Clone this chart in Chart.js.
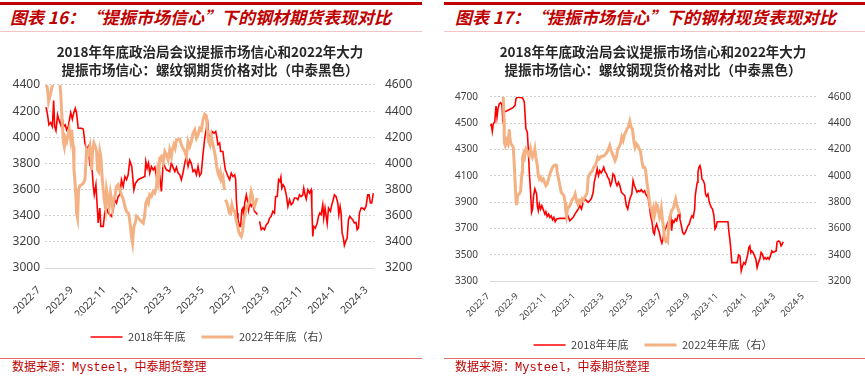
<!DOCTYPE html>
<html><head><meta charset="utf-8">
<script src="https://cdn.jsdelivr.net/npm/chart.js@4.4.1/dist/chart.umd.min.js"></script>
<style>
html,body{margin:0;padding:0;background:#fff;}
body{width:865px;height:376px;position:relative;overflow:hidden;font-family:"Noto Sans CJK SC",sans-serif;}
.bar{position:absolute;top:2px;height:3px;background:#C00000;}
.hd{position:absolute;top:6px;font-size:17px;font-weight:bold;font-style:italic;color:#C00000;white-space:nowrap;line-height:22px;}
.sub{position:absolute;top:31px;height:1px;background:#F2C4C4;}
.ft{position:absolute;top:358px;height:1px;background:#E07070;}
.src{position:absolute;top:361px;font-size:12px;color:#C00000;font-family:"Liberation Mono","Noto Sans CJK SC",monospace;line-height:14px;white-space:nowrap;}
.cw{position:absolute;top:38px;}
</style></head>
<body>
<div class="bar" style="left:0;width:422px"></div>
<div class="bar" style="left:444px;width:421px"></div>
<div class="hd" style="left:10px">图表 16：“提振市场信心”下的钢材期货表现对比</div>
<div class="hd" style="left:455px">图表 17：“提振市场信心”下的钢材现货表现对比</div>
<div class="sub" style="left:0;width:422px"></div>
<div class="sub" style="left:444px;width:421px"></div>
<div class="cw" style="left:0"><canvas id="c16" width="420" height="318"></canvas></div>
<div class="cw" style="left:441px"><canvas id="c17" width="424" height="326"></canvas></div>
<div class="ft" style="left:0;width:422px"></div>
<div class="ft" style="left:444px;width:421px"></div>
<div class="src" style="left:12px">数据来源：Mysteel，中泰期货整理</div>
<div class="src" style="left:455px">数据来源：Mysteel，中泰期货整理</div>
<script>
// x = months after start of 2022-07
const xLabels16 = ['2022-7','2022-9','2022-11','2023-1','2023-3','2023-5','2023-7','2023-9','2023-11','2024-1','2024-3'];
const xLabels17 = ['2022-7','2022-9','2022-11','2023-1','2023-3','2023-5','2023-7','2023-9','2023-11','2024-1','2024-3','2024-5'];
const seriesNames = ['2018年年底','2022年年底（右）'];
const title16 = ['2018年年底政治局会议提振市场信心和2022年大力','提振市场信心：螺纹钢期货价格对比（中泰黑色）'];
const title17 = ['2018年年底政治局会议提振市场信心和2022年大力','提振市场信心：螺纹钢现货价格对比（中泰黑色）'];

// Figure 16: rebar futures, 2018 (left axis)
const fut2018 = [[0.06,4230],[0.14,4184],[0.24,4095],[0.35,4112],[0.45,4082],[0.53,4280],[0.59,4082],[0.67,4051],[0.77,4171],[0.85,4133],[0.96,4095],[1.04,4153],[1.14,4082],[1.24,4095],[1.32,4056],[1.42,4082],[1.57,4189],[1.67,4138],[1.75,4184],[1.85,4222],[1.93,4184],[2.03,4069],[2.24,4069],[2.34,4062],[2.44,3955],[2.54,3904],[2.64,3929],[2.74,3789],[2.85,3802],[2.95,3624],[3.01,3560],[3.11,3637],[3.19,3471],[3.25,3344],[3.35,3458],[3.41,3318],[3.56,3318],[3.66,3433],[3.76,3458],[3.86,3420],[3.96,3408],[4.07,3395],[4.17,3446],[4.27,3522],[4.37,3497],[4.47,3547],[4.57,3560],[4.67,3675],[4.78,3624],[4.88,3700],[4.98,3675],[5.08,3713],[5.18,3820],[5.30,3777],[5.43,3598],[5.53,3649],[5.69,3675],[5.89,3688],[6.10,3700],[6.16,3815],[6.24,3764],[6.32,3802],[6.40,3726],[6.50,3777],[6.61,3751],[6.71,3771],[6.81,3700],[6.97,3751],[7.11,3586],[7.22,3802],[7.42,3751],[7.62,3738],[7.72,3802],[7.93,3738],[8.03,3771],[8.13,3726],[8.23,3713],[8.33,3675],[8.43,3726],[8.54,3802],[8.64,3853],[8.74,3777],[8.84,3827],[8.94,3802],[9.04,3738],[9.15,3751],[9.25,3713],[9.35,3777],[9.45,3705],[9.55,3726],[9.65,3866],[9.76,3993],[9.86,4069],[9.94,4107],[10.00,4018],[10.12,3980],[10.20,4044],[10.33,4031],[10.43,4044],[10.49,4006],[10.57,3942],[10.67,3955],[10.73,3891],[10.87,3891],[10.93,3827],[11.02,3751],[11.10,3726],[11.18,3700],[11.28,3675],[11.38,3726],[11.48,3700],[11.59,3713],[11.65,3675],[11.69,3522],[11.75,3420],[11.79,3369],[11.89,3318],[11.95,3318],[12.03,3446],[12.09,3458],[12.15,3395],[12.20,3497],[12.30,3560],[12.36,3522],[12.44,3446],[12.50,3497],[12.60,3471],[12.70,3497],[12.80,3433],[12.91,3420],[12.97,3408],[13.04,null],[13.11,3357],[13.21,3293],[13.31,3306],[13.41,3293],[13.52,3331],[13.62,3344],[13.72,3382],[13.82,3395],[13.92,3433],[14.02,3420],[14.09,3547],[14.19,3547],[14.27,3675],[14.35,3662],[14.41,3695],[14.47,3611],[14.55,3637],[14.63,3620],[14.74,3560],[14.84,3471],[14.94,3522],[15.04,3484],[15.14,3497],[15.24,3535],[15.35,3535],[15.45,3522],[15.55,3560],[15.65,3547],[15.75,3560],[15.81,3611],[15.89,3560],[15.96,3527],[16.06,3598],[16.16,3573],[16.26,3598],[16.30,3471],[16.36,3242],[16.42,3318],[16.52,3306],[16.63,3344],[16.71,3395],[16.79,3420],[16.87,3408],[16.97,3484],[17.03,3382],[17.11,3458],[17.24,3340],[17.32,3458],[17.44,3433],[17.52,3484],[17.58,3509],[17.68,3560],[17.78,3547],[17.89,3497],[17.95,3408],[18.03,3471],[18.09,3420],[18.15,3268],[18.23,3229],[18.29,3173],[18.37,3204],[18.46,3229],[18.54,3369],[18.62,3395],[18.70,3382],[18.80,3369],[18.90,3344],[19.00,3349],[19.07,3293],[19.15,3306],[19.21,3420],[19.31,3458],[19.41,3458],[19.51,3446],[19.61,3471],[19.72,3560],[19.80,3560],[19.88,3497],[19.96,3497],[20.06,3573]];

// Figure 16: rebar futures, 2022 (right axis)
const fut2022 = [[0.06,4600],[0.14,4582],[0.22,4473],[0.30,4511],[0.41,4575],[0.51,4625],[0.61,4690],[0.75,4720],[0.87,4665],[0.96,4536],[1.02,4384],[1.08,4256],[1.12,4167],[1.18,4129],[1.24,4193],[1.32,4167],[1.42,4231],[1.48,4262],[1.57,4180],[1.63,4256],[1.69,4167],[1.73,4129],[1.77,3951],[1.81,3900],[1.89,3747],[1.93,3620],[1.99,3582],[2.05,3798],[2.13,3829],[2.24,3837],[2.34,3849],[2.44,3875],[2.50,4002],[2.54,4104],[2.64,4078],[2.74,4129],[2.85,3951],[2.91,4104],[2.99,4155],[3.07,4129],[3.15,4091],[3.21,3951],[3.27,3938],[3.35,4091],[3.41,4053],[3.50,3875],[3.56,3798],[3.62,3722],[3.70,3658],[3.76,3798],[3.86,3722],[3.92,3671],[4.00,3773],[4.07,3722],[4.13,3658],[4.21,3722],[4.29,3760],[4.37,3824],[4.47,3837],[4.57,3798],[4.67,3760],[4.78,3727],[4.88,3671],[4.98,3633],[5.08,3620],[5.14,3595],[5.22,3518],[5.28,3442],[5.35,3391],[5.43,3518],[5.51,3544],[5.59,3595],[5.69,3582],[5.79,3569],[5.89,3557],[6.00,3544],[6.08,3595],[6.16,3697],[6.24,3722],[6.32,3697],[6.40,3760],[6.50,3747],[6.61,3786],[6.71,3773],[6.81,3824],[6.87,3926],[6.93,3875],[7.01,4040],[7.11,4053],[7.22,4002],[7.32,4091],[7.42,4066],[7.52,4027],[7.62,4104],[7.72,4053],[7.78,4104],[7.87,4142],[7.95,4116],[8.03,4180],[8.13,4180],[8.23,4185],[8.33,4142],[8.43,4116],[8.54,4091],[8.64,4053],[8.74,4167],[8.84,4129],[8.94,4167],[9.04,4231],[9.15,4256],[9.25,4193],[9.35,4218],[9.45,4269],[9.55,4256],[9.65,4333],[9.76,4376],[9.86,4363],[9.92,4256],[10.00,4167],[10.08,4142],[10.16,4205],[10.24,4155],[10.33,4104],[10.41,4053],[10.49,3976],[10.57,3926],[10.65,3900],[10.71,3931],[10.77,3875],[10.87,3900],[10.93,3824],[10.98,3798],[11.00,null],[11.02,3722],[11.10,3702],[11.18,3671],[11.26,3620],[11.34,3615],[11.42,3684],[11.50,3646],[11.59,3633],[11.67,3569],[11.75,3531],[11.83,3480],[11.91,3455],[11.99,3442],[12.07,3480],[12.15,3569],[12.24,3620],[12.32,3658],[12.40,3684],[12.50,3709],[12.60,3786],[12.66,3760],[12.72,3697],[12.80,3671],[12.89,3709],[12.97,3735]];

// Figure 17: rebar spot, 2018 (left axis)
const spot2018 = [[-0.28,4484],[-0.19,4489],[-0.12,4438],[-0.05,4496],[0.05,4509],[0.14,4631],[0.21,4547],[0.28,4611],[0.37,4649],[0.47,4657],[0.56,4636],[0.61,4540],[0.70,4585],[0.88,4593],[1.12,4606],[1.35,4621],[1.47,4636],[1.54,4687],[1.63,4700],[2.00,4692],[2.12,4662],[2.23,4458],[2.33,4433],[2.40,4305],[2.47,4127],[2.56,3975],[2.63,3822],[2.70,3847],[2.77,3949],[2.86,4000],[2.98,3962],[3.03,3873],[3.10,3835],[3.17,3885],[3.26,3847],[3.35,3873],[3.45,3842],[3.56,3809],[3.63,3827],[3.72,3791],[3.82,3809],[3.91,3784],[4.00,3796],[4.10,3766],[4.19,3784],[4.28,3751],[4.38,3771],[4.61,3776],[5.03,3776],[5.12,3809],[5.21,3784],[5.31,3758],[5.42,3771],[5.54,3784],[5.66,3809],[5.77,3827],[5.89,3847],[6.01,3873],[6.12,3847],[6.24,3898],[6.35,3924],[6.47,3911],[6.59,3898],[6.70,3911],[6.82,3929],[6.94,3975],[7.01,4051],[7.12,4102],[7.22,4153],[7.31,4102],[7.40,4140],[7.50,4122],[7.59,4140],[7.68,4165],[7.77,4132],[7.87,4115],[7.96,4089],[8.05,4076],[8.15,4026],[8.24,4051],[8.33,4115],[8.43,4102],[8.52,4051],[8.61,4026],[8.71,4051],[8.80,4026],[8.92,3975],[9.03,3962],[9.15,3949],[9.26,3873],[9.36,3847],[9.45,3898],[9.54,3936],[9.64,3962],[9.73,4064],[9.82,4026],[9.92,4000],[10.01,3975],[10.10,3987],[10.20,3980],[10.31,3995],[10.43,3975],[10.54,3987],[10.61,3962],[10.68,3949],[10.78,3936],[10.87,3873],[10.96,3796],[11.06,3746],[11.15,3669],[11.22,3656],[11.29,3707],[11.38,3733],[11.48,3695],[11.57,3669],[11.66,3618],[11.75,3588],[11.82,3618],[11.89,3669],[11.99,3695],[12.08,3720],[12.17,3746],[12.27,3766],[12.36,3796],[12.43,3682],[12.50,3758],[12.59,3746],[12.69,3771],[12.78,3758],[12.87,3796],[12.97,3822],[13.01,3771],[13.11,3720],[13.20,3669],[13.29,3656],[13.38,3669],[13.48,3695],[13.57,3720],[13.66,3733],[13.76,3771],[13.85,3796],[13.94,3784],[14.04,3847],[14.08,3949],[14.15,4000],[14.22,4051],[14.27,4127],[14.34,4165],[14.41,4178],[14.48,4148],[14.55,4076],[14.64,4064],[14.73,4038],[14.80,3962],[14.87,3944],[14.97,3962],[15.04,3911],[15.11,3885],[15.20,3860],[15.29,3847],[15.39,3796],[15.46,3695],[15.53,3707],[15.62,3751],[16.37,3751],[16.44,3669],[16.50,3618],[16.57,3542],[16.64,3440],[17.02,3440],[17.11,3499],[17.21,3491],[17.30,3377],[17.39,3415],[17.48,3440],[17.58,3428],[17.67,3466],[17.76,3504],[17.83,3555],[17.90,3567],[17.97,3517],[18.04,3529],[18.13,3517],[18.23,3491],[18.32,3466],[18.41,3402],[18.50,3440],[18.60,3466],[18.69,3517],[18.78,3504],[18.88,3466],[18.97,3478],[19.06,3466],[19.16,3478],[19.25,3466],[19.34,3491],[19.44,3529],[19.53,3517],[19.62,3522],[19.74,3529],[19.81,3598],[19.90,3605],[20.00,3598],[20.09,3567],[20.16,3578],[20.23,3598]];

// Figure 17: rebar spot, 2022 (right axis)
const spot2022 = [[0.61,4664],[0.65,4600],[0.70,4435],[0.72,4256],[0.79,4231],[0.88,4269],[0.98,4244],[1.07,4353],[1.12,4282],[1.19,4244],[1.26,4231],[1.35,4218],[1.42,4078],[1.49,3926],[1.54,3811],[1.58,3778],[1.65,3849],[1.77,3862],[1.86,3887],[1.96,4027],[2.00,4142],[2.07,4167],[2.14,4142],[2.23,4205],[2.30,4193],[2.37,4180],[2.47,4155],[2.56,4205],[2.63,4167],[2.70,4142],[2.79,4167],[2.86,4205],[2.93,4142],[3.03,4078],[3.10,4002],[3.17,3976],[3.26,3989],[3.35,3964],[3.45,3976],[3.54,3951],[3.63,3926],[3.72,3938],[3.82,3976],[3.91,4015],[4.00,4040],[4.10,4065],[4.19,4078],[4.28,4083],[4.38,4078],[4.42,4027],[4.52,3976],[4.61,3926],[4.70,3875],[4.80,3862],[4.89,3849],[4.98,3798],[5.03,3722],[5.07,3696],[5.14,3747],[5.21,3760],[5.31,3773],[5.40,3798],[5.49,3824],[5.59,3836],[5.68,3862],[5.77,3811],[5.87,3785],[5.96,3811],[6.05,3798],[6.15,3824],[6.24,3811],[6.33,3836],[6.42,3849],[6.52,3875],[6.59,3989],[6.70,4015],[6.80,4027],[6.89,4040],[6.98,4065],[7.08,4078],[7.17,4104],[7.26,4142],[7.36,4129],[7.45,4142],[7.54,4149],[7.64,4149],[7.73,4155],[7.82,4167],[7.91,4180],[8.01,4205],[8.10,4231],[8.19,4193],[8.29,4167],[8.38,4142],[8.47,4116],[8.57,4142],[8.66,4205],[8.75,4218],[8.85,4244],[8.94,4294],[9.03,4269],[9.12,4312],[9.22,4333],[9.31,4358],[9.40,4371],[9.50,4414],[9.59,4371],[9.68,4358],[9.78,4269],[9.87,4218],[9.96,4244],[10.06,4231],[10.15,4205],[10.24,4193],[10.34,4116],[10.43,4065],[10.54,4065],[10.61,4040],[10.66,3989],[10.73,3926],[10.80,3875],[10.87,3811],[10.94,3760],[11.01,3747],[11.08,3709],[11.15,3747],[11.22,3696],[11.29,3735],[11.36,3785],[11.43,3773],[11.52,3722],[11.59,3684],[11.66,3709],[11.71,3747],[11.78,3671],[11.85,3620],[11.89,3569],[11.94,3518],[12.01,3505],[12.08,3518],[12.15,3505],[12.22,3620],[12.29,3684],[12.36,3709],[12.43,3735],[12.50,3747],[12.57,3760],[12.64,3798],[12.71,3824],[12.78,3785],[12.85,3760],[12.92,3735],[12.99,3709]];

const CJK = '"Noto Sans CJK SC", sans-serif';
const NUM = '"Noto Sans", "Noto Sans CJK SC", sans-serif';
const toXY = arr => arr.map(p => ({x: p[0], y: p[1]}));

function build(id, o) {
  return new Chart(document.getElementById(id), {
    type: 'line',
    data: {
      datasets: [
        {label: seriesNames[0], data: toXY(o.red), yAxisID: 'y', borderColor: '#FF0000', backgroundColor: '#FF0000',
         borderWidth: 1.6, pointRadius: 0, tension: 0, spanGaps: false, order: 1},
        {label: seriesNames[1], data: toXY(o.orange), yAxisID: 'y1', borderColor: '#F4B183', backgroundColor: '#F4B183',
         borderWidth: 3, pointRadius: 0, tension: 0, spanGaps: false, order: 0}
      ]
    },
    options: {
      responsive: false, animation: false, devicePixelRatio: 1,
      layout: {padding: {top: 0, bottom: 3.5, left: 0, right: 0}},
      plugins: {
        title: {display: true, text: o.title, color: '#262626',
          font: {family: CJK, size: 13.5, weight: 'bold', lineHeight: 1.35},
          padding: {top: 5, bottom: o.titleBottom}},
        legend: {position: 'bottom',
          labels: {usePointStyle: true, pointStyle: 'line', pointStyleWidth: 32, color: '#404040',
            font: {family: CJK, size: 11}, padding: 16,
            sort: (a, b) => a.datasetIndex - b.datasetIndex}},
        tooltip: {enabled: false}
      },
      scales: {
        x: {type: 'linear', min: o.xmin, max: o.xmax,
          grid: {display: false, drawTicks: false},
          border: {display: true, color: '#D9D9D9'},
          afterBuildTicks: s => { s.ticks = o.xLabels.map((_, i) => ({value: 2 * i + o.tickShift})); },
          ticks: {autoSkip: false, minRotation: 45, maxRotation: 45,
            padding: o.xpad, color: '#404040', font: {family: NUM, size: o.xfs},
            callback: (v, i) => o.xLabels[i] || ''},
          afterFit: s => { s.height = o.xh; }},
        y: {position: 'left', min: o.lmin, max: o.lmax,
          grid: {color: '#D0D0D0', drawTicks: false, lineWidth: 1},
          border: {display: false, dash: [2, 2]},
          ticks: {stepSize: 200, padding: o.lpad, color: '#404040', font: {family: NUM, size: o.fs},
            callback: v => String(v)},
          afterFit: s => { s.width = o.lw; }},
        y1: {position: 'right', min: o.rmin, max: o.rmax,
          grid: {drawOnChartArea: false, drawTicks: false},
          border: {display: false},
          ticks: {stepSize: 200, padding: o.rpad, color: '#404040', font: {family: NUM, size: o.fs},
            callback: v => String(v)},
          afterFit: s => { s.width = o.rw; }}
      }
    }
  });
}

build('c16', {red: fut2018, orange: fut2022, title: title16, titleBottom: 5.5, xLabels: xLabels16, tickShift: -0.37,
  xmin: 0, xmax: 20.1, xh: 47.5, xpad: 16, fs: 12, xfs: 10.5, lmin: 3000, lmax: 4400, rmin: 3200, rmax: 4600,
  lw: 45, rw: 46, lpad: 5, rpad: 11});
build('c17', {red: spot2018, orange: spot2022, title: title17, titleBottom: 17.5, xLabels: xLabels17, tickShift: -0.4,
  xmin: -0.28, xmax: 22.6, xh: 42.5, xpad: 10, fs: 10, xfs: 9, lmin: 3300, lmax: 4700, rmin: 3200, rmax: 4600,
  lw: 49, rw: 48, lpad: 12, rpad: 11});
</script>
</body></html>
